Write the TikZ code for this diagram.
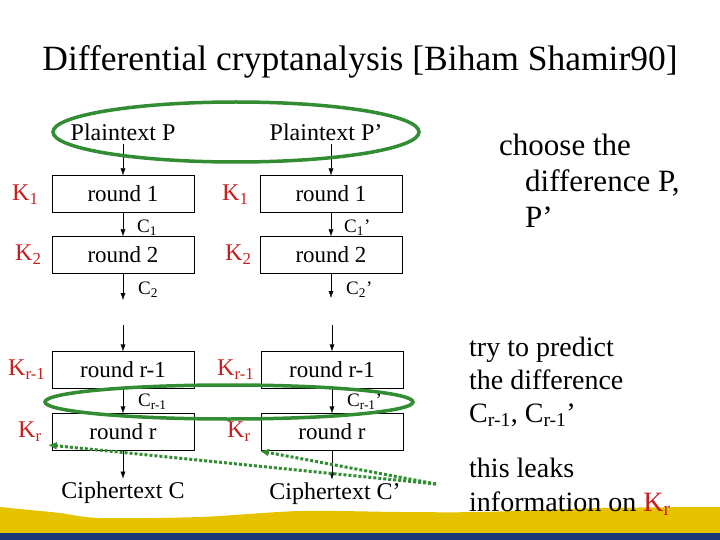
\documentclass[tikz,border=0pt]{standalone}
\usepackage{fontspec}
\setmainfont{Liberation Serif}
\usetikzlibrary{arrows.meta}
\definecolor{ringgreen}{RGB}{50,140,50}
\definecolor{keyred}{RGB}{200,30,30}
\definecolor{bandyellow}{RGB}{230,195,0}
\definecolor{bandnavy}{RGB}{30,55,120}
\begin{document}
\begin{tikzpicture}[x=1pt, y=-1pt, >={Latex[length=7pt,width=5pt]},
    roundbox/.style={draw, minimum width=142pt, minimum height=37pt, font=\fontsize{23}{27}\selectfont},
    keylbl/.style={text=keyred, anchor=west, inner sep=0pt, font=\fontsize{24}{28}\selectfont},
    difflbl/.style={anchor=west, inner sep=0pt, font=\fontsize{19}{22}\selectfont},
    plainlbl/.style={font=\fontsize{24}{28}\selectfont},
    notes/.style={anchor=north west, inner sep=0pt, align=left},
    ring/.style={draw=ringgreen, line width=3.5pt},
    leak/.style={draw=ringgreen, line width=3pt, dash pattern=on 3pt off 2pt,
        -{Latex[length=9pt,width=8pt]}}]
    \useasboundingbox (0,0) rectangle (720,540) ;
    \fill[bandyellow] plot[smooth] coordinates {(0,507) (30,510) (60,513) (100,518) (200,517)
        (300,511) (400,512) (480,512) (600,508) (720,507)} -- (720,533) -- (0,533) -- cycle ;
    \fill[bandnavy] (0,533) rectangle (720,540) ;
    \node[font=\fontsize{35.5}{40}\selectfont] (title) at (360,62) {Differential cryptanalysis [Biham Shamir90]} ;
    \node[plainlbl] (ptP) at (123,132) {Plaintext P} ;
    \node[plainlbl] (ptQ) at (326,132) {Plaintext P’} ;
    \node[roundbox] (a1) at (123,194) {round 1} ;
    \node[roundbox] (a2) at (123,255) {round 2} ;
    \node[roundbox] (ar1) at (123,370) {round r-1} ;
    \node[roundbox] (ar) at (123,432) {round r} ;
    \node[roundbox] (b1) at (331,194) {round 1} ;
    \node[roundbox] (b2) at (331,255) {round 2} ;
    \node[roundbox] (br1) at (332,370) {round r-1} ;
    \node[roundbox] (br) at (332,432) {round r} ;
    \node[plainlbl] (ctC) at (123,493) {Ciphertext C} ;
    \node[plainlbl] (ctD) at (335,494) {Ciphertext C’} ;
    \node[keylbl] (ka1) at (12,195) {K\textsubscript{1}} ;
    \node[keylbl] (ka2) at (15,255) {K\textsubscript{2}} ;
    \node[keylbl] (kar1) at (8,370) {K\textsubscript{r-1}} ;
    \node[keylbl] (kar) at (18,432) {K\textsubscript{r}} ;
    \node[keylbl] (kb1) at (222,195) {K\textsubscript{1}} ;
    \node[keylbl] (kb2) at (225,255) {K\textsubscript{2}} ;
    \node[keylbl] (kbr1) at (217,370) {K\textsubscript{r-1}} ;
    \node[keylbl] (kbr) at (227,432) {K\textsubscript{r}} ;
    \node[difflbl] (ca1) at (137,228) {C\textsubscript{1}} ;
    \node[difflbl] (ca2) at (138,290) {C\textsubscript{2}} ;
    \node[difflbl] (car1) at (138,402) {C\textsubscript{r-1}} ;
    \node[difflbl] (cb1) at (344,228) {C\textsubscript{1}’} ;
    \node[difflbl] (cb2) at (346,290) {C\textsubscript{2}’} ;
    \node[difflbl] (cbr1) at (347,402) {C\textsubscript{r-1}’} ;
    \coordinate (a2out) at (123,300) ;
    \coordinate (ar1in) at (123,325) ;
    \coordinate (b2out) at (331,298) ;
    \coordinate (br1in) at (332,325) ;
    \draw[->] (ptP) -- (a1) ;
    \draw[->] (a1) -- (a2) ;
    \draw[->] (a2) -- (a2out) ;
    \draw[->] (ar1in) -- (ar1) ;
    \draw[->] (ar1) -- (ar) ;
    \draw[->] (ar) -- (ctC) ;
    \draw[->] (ptQ.south -| b1.north) -- (b1.north) ;
    \draw[->] (b1) -- (b2) ;
    \draw[->] (b2) -- (b2out) ;
    \draw[->] (br1in) -- (br1) ;
    \draw[->] (br1) -- (br) ;
    \draw[->] (br) -- (br |- ctD.north) ;
    \node[notes, font=\fontsize{31}{36}\selectfont] (choose) at (499,134)
        {choose the\\\hspace*{26pt}difference P,\\\hspace*{26pt}P’} ;
    \node[notes, font=\fontsize{28}{33}\selectfont] (predict) at (469,337)
        {try to predict\\the difference\\C\textsubscript{r-1}, C\textsubscript{r-1}’} ;
    \node[notes, font=\fontsize{28}{34}\selectfont] (leaks) at (469,458)
        {this leaks\\information on \textcolor{keyred}{K\textsubscript{r}}} ;
    \draw[ring] (236,132) ellipse [x radius=183pt, y radius=30pt] ;
    \draw[ring] (229,402) ellipse [x radius=184pt, y radius=17pt] ;
    \coordinate (src) at (436,484) ;
    \draw[leak] (src) -- ([xshift=6pt,yshift=-3pt]kar.south east) ;
    \draw[leak] (src) -- ([xshift=9pt,yshift=-9pt]kbr.south east) ;
  \end{tikzpicture}
\end{document}
